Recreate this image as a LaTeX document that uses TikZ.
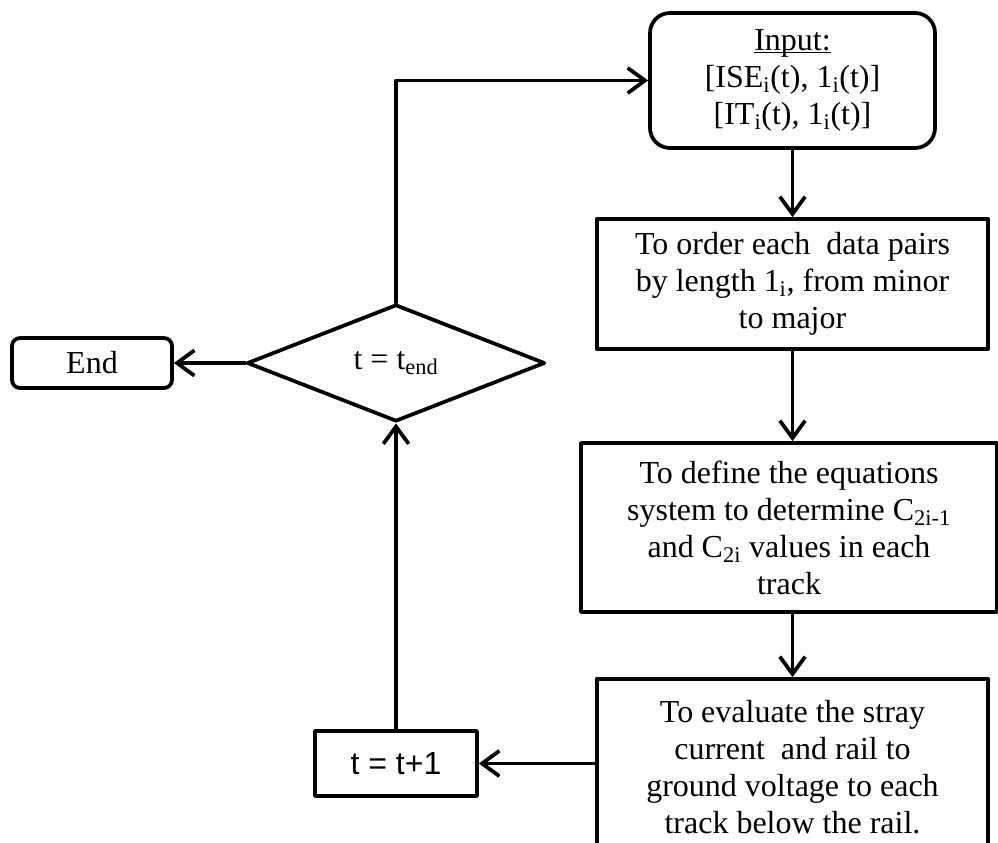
\documentclass[tikz,border=0pt]{standalone}
\usepackage{fontspec}
\setmainfont{Liberation Serif}
\setsansfont{Liberation Sans}
\usetikzlibrary{shapes.geometric,arrows.meta}

\begin{document}
\begin{tikzpicture}[x=0.75pt, y=-0.75pt, line cap=round, line join=round,
    font=\fontsize{24}{27.8}\selectfont,
    box/.style={draw, line width=2.8pt, align=center, inner sep=0pt},
    rbox/.style={box, rounded corners=15pt},
    flow/.style={line width=2.8pt, -{Straight Barb[length=13pt, width=19pt]}}]
  \useasboundingbox (0,0) rectangle (998,842);
  \clip (0,0) rectangle (998,842);
  % right column: input and the three steps
  \node[rbox, minimum width=213.75pt, minimum height=101.25pt] (input) at (792.5,80.5)
    {\underline{\raisebox{0pt}[\height][0pt]{Input:}}\\\relax[ISE\textsubscript{i}(t), 1\textsubscript{i}(t)]\\\relax[IT\textsubscript{i}(t), 1\textsubscript{i}(t)]};
  \node[box, minimum width=293pt, minimum height=97.5pt] (order) at (792.5,284)
    {To order each\ \ data pairs\\ by length 1\textsubscript{i}, from minor\\ to major};
  \node[box, minimum width=312pt, minimum height=126.75pt] (define) at (789,527.5)
    {To define the equations\\ system to determine C\textsubscript{2i-1}\\ and C\textsubscript{2i} values in each\\ track};
  \node[box, minimum width=293pt, minimum height=132pt] (stray) at (792.5,767)
    {To evaluate the stray\\ current\ \ and rail to\\ ground voltage to each\\ track below the rail.};
  % left column: loop and end
  \node[box, diamond, minimum width=223.5pt, minimum height=87.75pt] (check) at (396,363)
    {t = t\textsubscript{end}};
  \node[box, rounded corners=6pt, minimum width=120pt, minimum height=37.5pt] (end) at (92,363) {End};
  \node[box, font=\fontsize{24}{27.8}\sffamily, minimum width=121.5pt, minimum height=48.75pt] (next) at (396,763.5)
    {t = t+1};
  % connectors
  \draw[flow] (check.north) -- (check.north |- input.west) -- (input.west);
  \draw[flow] (input.south) -- (order.north);
  \draw[flow] (order.south) -- (order.south |- define.north);
  \draw[flow] (define.south -| stray.north) -- (stray.north);
  \draw[flow] (stray.west |- next.east) -- (next.east);
  \draw[flow] (next.north) -- (check.south);
  \draw[flow] (check.west) -- (end.east);
\end{tikzpicture}
\end{document}
